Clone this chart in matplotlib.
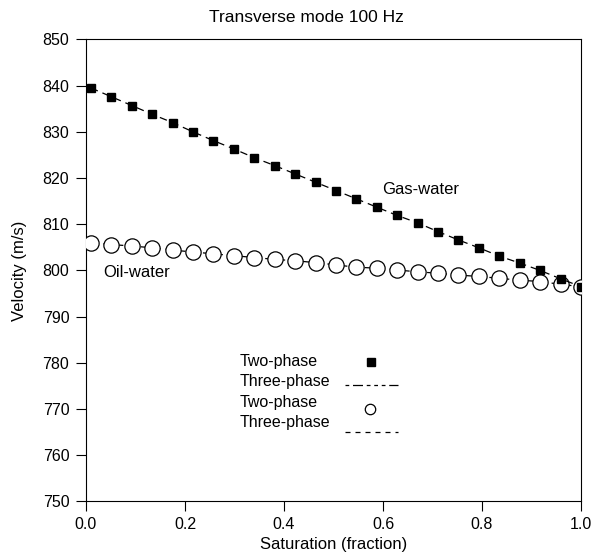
import numpy as np
import matplotlib
matplotlib.use("Agg")
import matplotlib.pyplot as plt

plt.rcParams['font.family'] = ['Liberation Sans', 'DejaVu Sans']

saturation = np.linspace(0.01, 1.0, 25)
gas_water = [839.5, 837.6, 835.7, 833.8, 832.0, 830.0, 828.1, 826.3, 824.4, 822.7,
             820.9, 819.1, 817.3, 815.5, 813.7, 811.9, 810.3, 808.4, 806.6, 804.9,
             803.1, 801.6, 800.0, 798.2, 796.5]
oil_water = [806.0, 805.6, 805.3, 804.9, 804.4, 804.0, 803.6, 803.2, 802.8, 802.4,
             802.1, 801.7, 801.2, 800.7, 800.5, 800.1, 799.7, 799.4, 799.0, 798.7,
             798.3, 797.9, 797.6, 797.0, 796.5]
xticks = [0.0, 0.2, 0.4, 0.6, 0.8, 1.0]
yticks = list(range(750, 851, 10))

fig = plt.figure(figsize=(5.95, 5.58), dpi=100)
ax = fig.add_axes([0.1445, 0.1013, 0.832, 0.828])

dash = (0, (6, 4))
ax.plot(saturation, oil_water, color='black', lw=0.9, linestyle=dash, zorder=2)
ax.plot(saturation, oil_water, linestyle='none', marker='o', ms=11,
        mfc='white', mec='black', mew=0.9, zorder=3)
ax.plot(saturation, gas_water, color='black', lw=0.9, linestyle=dash, zorder=4)
ax.plot(saturation, gas_water, linestyle='none', marker='s', ms=6,
        mfc='black', mec='black', zorder=5)

ax.set_xlim(0, 1.0)
ax.set_ylim(750, 850)
ax.set_xticks(xticks)
ax.set_xticklabels([f"{t:.1f}" for t in xticks])
ax.set_yticks(yticks)
ax.tick_params(direction='out', length=7, width=0.8, labelsize=11.5, pad=5)
ax.tick_params(axis='x', pad=4)
for s in ax.spines.values():
    s.set_linewidth(0.8)

ax.set_xlabel("Saturation (fraction)", fontsize=12, labelpad=4)
ax.set_ylabel("Velocity (m/s)", fontsize=12, labelpad=11)
fig.text(306/595, 1-18/558, "Transverse mode 100 Hz", ha='center', va='center', fontsize=12.5)

ax.text(0.598, 817.6, "Gas-water", transform=ax.get_yaxis_transform(), fontsize=12, va='center')
ax.text(0.034, 799.6, "Oil-water", transform=ax.get_yaxis_transform(), fontsize=12, va='center')

# legend block
tx = 0.31
fs = 11.5
ax.text(tx, 0.302, "Two-phase", transform=ax.transAxes, fontsize=fs, va='center')
ax.text(tx, 0.259, "Three-phase", transform=ax.transAxes, fontsize=fs, va='center')
ax.text(tx, 0.215, "Two-phase", transform=ax.transAxes, fontsize=fs, va='center')
ax.text(tx, 0.170, "Three-phase", transform=ax.transAxes, fontsize=fs, va='center')
ax.plot([0.576], [0.302], marker='s', ms=5.5, color='black', transform=ax.transAxes)
ax.plot([0.523, 0.630], [0.252, 0.252], color='black', lw=0.9,
        linestyle=(0, (3, 3, 8, 3, 3, 3, 3, 3)), transform=ax.transAxes)
ax.plot([0.574], [0.200], marker='o', ms=7.5, mfc='white', mec='black', mew=0.9,
        transform=ax.transAxes)
ax.plot([0.523, 0.630], [0.150, 0.150], color='black', lw=0.9,
        linestyle=(0, (4, 4)), transform=ax.transAxes)

fig.savefig("out.png", dpi=100)
